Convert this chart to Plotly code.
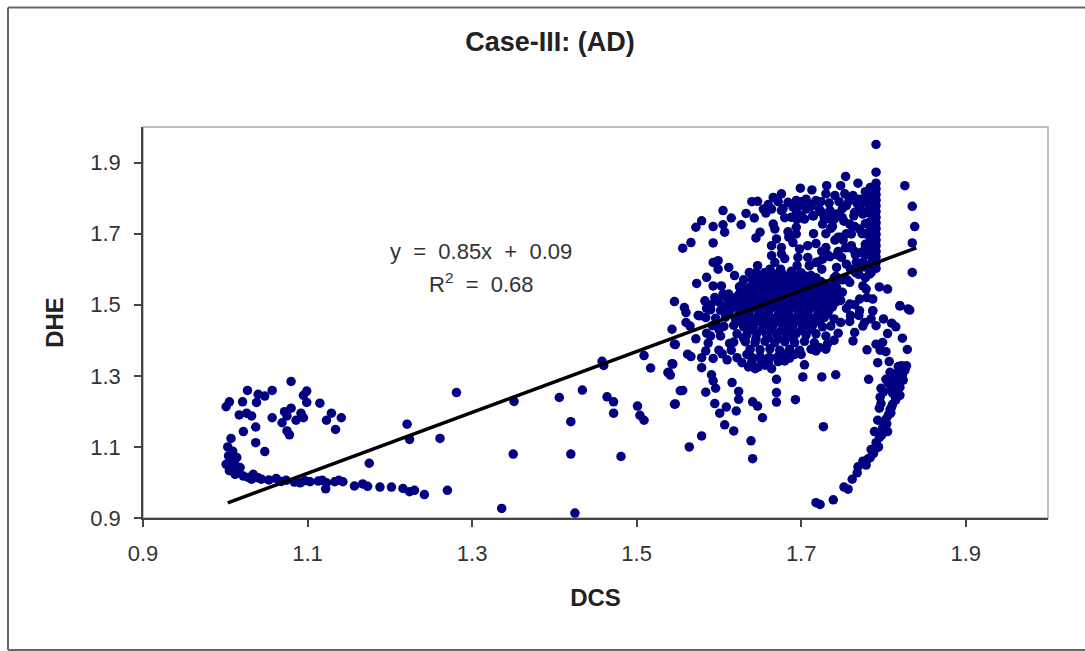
import plotly.graph_objects as go

# Loop of points at the lower left
left_x = [1.080,1.027,1.057,1.099,1.040,1.048,1.095,1.005,1.001,1.021,1.038,1.099,1.115,1.017,1.026,1.032,1.057,1.072,1.080,1.075,1.069,1.092,1.086,1.095,1.129,1.123,1.141,1.134,1.037,1.022,1.075,1.078,1.037,1.048,
          1.007,1.003,1.009,1.014,1.007,1.001,1.009,1.018,1.012,1.022,1.034,1.032,1.044,1.062,1.053,1.074,1.091,1.103,1.113,1.123,1.122,1.133,1.143,1.157,1.167,1.173,1.188,1.202,1.216,1.224,1.230,1.242,1.270,1.175,1.221,1.224,1.261,1.281,
          1.004,1.011,1.005,1.016,1.028,1.040,1.068,1.084,1.097,1.118,1.138]
left_y = [1.284,1.259,1.259,1.257,1.248,1.243,1.245,1.227,1.213,1.227,1.225,1.225,1.223,1.190,1.195,1.187,1.182,1.199,1.209,1.187,1.168,1.195,1.175,1.182,1.195,1.175,1.182,1.149,1.156,1.143,1.145,1.134,1.112,1.087,
          1.124,1.100,1.088,1.070,1.065,1.051,1.042,1.042,1.023,1.018,1.023,1.009,1.009,1.011,1.007,1.006,0.999,1.002,1.004,0.999,0.982,1.002,1.002,0.990,0.996,0.989,0.987,0.987,0.983,0.974,0.978,0.966,0.978,1.054,1.164,1.121,1.124,1.253,
          1.075,1.055,1.033,1.029,1.014,1.013,1.003,1.001,1.005,1.006,1.006]

# Scattered points between the clusters
mid_x = [1.351,1.406,1.434,1.420,1.350,1.420,1.481,1.336,1.425,1.458,1.460,1.464,1.472,1.472,1.501,1.504,1.509,1.509,1.517,1.544,1.539,1.541,1.547,1.547,1.553]
mid_y = [1.228,1.239,1.260,1.171,1.080,1.080,1.073,0.927,0.914,1.341,1.329,1.241,1.227,1.195,1.215,1.189,1.175,1.357,1.322,1.333,1.310,1.302,1.221,1.388,1.258]

# Points below the dense block
low_x = [1.543,1.546,1.562,1.566,1.543,1.538,1.579,1.579,1.584,1.593,1.591,1.593,1.596,1.556,1.584,1.546,1.616,1.624,1.624,1.595,1.609,1.601,1.621,1.641,1.647,1.653,1.607,1.618,1.579,1.564,1.639,1.641,1.670,1.670,1.670,1.693,1.702,1.725,1.742,1.704,1.680,1.782,1.727,1.730,1.718,1.698,
         1.602,1.613,1.604,1.622,1.618,1.610,1.590,1.572,1.587,1.600,1.615,1.628,1.636,1.644,1.652,1.660,1.634,1.686]
low_y = [1.431,1.389,1.361,1.354,1.334,1.309,1.323,1.351,1.370,1.349,1.303,1.286,1.265,1.259,1.254,1.220,1.281,1.256,1.234,1.222,1.212,1.195,1.201,1.227,1.215,1.182,1.162,1.145,1.131,1.100,1.117,1.067,1.290,1.253,1.226,1.233,1.297,1.297,1.303,1.331,1.342,1.290,1.157,1.375,1.370,1.370,
         1.412,1.391,1.362,1.351,1.395,1.345,1.412,1.404,1.392,1.372,1.372,1.337,1.325,1.320,1.345,1.336,1.360,1.350]

# Arc on the lower right
arc_x = [1.718,1.723,1.739,1.752,1.757,1.762,1.768,1.769,1.779,1.784,1.785,1.791,1.795,1.789,1.805,1.799,1.793,1.803,1.809,1.795,1.797,1.811,1.814,1.820,1.809,1.797,1.818,1.803,1.812,1.824,1.820,1.822,1.807,1.793,1.828,1.829,1.823,1.815,1.805,1.799,1.791,1.780,1.803,1.796,1.763,1.765,1.777,1.791,1.759,1.820,1.832,1.787,1.771,1.775,1.788,1.794,1.801,1.806,1.810,1.815,1.812,1.817,1.808,
         1.781,1.792,1.798,1.804,1.808,1.811,1.816,1.820,1.823,1.826,1.814,1.818,1.806,1.812,1.800,1.796]
arc_y = [0.943,0.938,0.951,0.987,0.981,1.009,1.027,1.044,1.049,1.070,1.093,1.112,1.126,1.143,1.143,1.154,1.175,1.178,1.196,1.209,1.222,1.220,1.243,1.245,1.262,1.265,1.272,1.290,1.290,1.288,1.309,1.328,1.340,1.337,1.328,1.374,1.406,1.438,1.419,1.394,1.389,1.373,1.368,1.372,1.398,1.422,1.450,1.441,1.453,1.497,1.485,1.483,1.483,1.060,1.082,1.100,1.162,1.190,1.212,1.232,1.262,1.296,1.310,
         1.066,1.098,1.134,1.165,1.205,1.252,1.280,1.268,1.300,1.315,1.305,1.326,1.280,1.272,1.255,1.240]

# Upper cloud
up_x = [1.791,1.791,1.754,1.769,1.826,1.699,1.713,1.731,1.748,1.835,1.838,1.835,1.835,
        1.647,1.666,1.676,1.684,1.694,1.706,1.718,1.730,1.741,1.753,1.763,1.771,1.779,1.654,1.664,1.676,1.694,1.706,1.722,1.735,1.755,1.771,
        1.605,1.615,1.633,1.643,1.627,1.579,1.572,1.593,1.605,1.607,1.566,1.556,1.593,1.650,1.645,1.666,1.668,1.664,1.670,1.676,1.676,1.664,1.668,
        1.694,1.694,1.704,1.690,1.698,1.708,1.696,1.708,1.726,1.735,1.743,1.726,1.718,1.730,1.741,1.751,1.761,1.771,1.759,1.761,1.749,1.755,1.743,1.773,1.767,1.775,
        1.593,1.599,1.599,1.612,1.619,1.637,1.647,1.662,1.585,1.573,1.593,1.603,1.629,1.645,1.546,1.558,1.560,1.583,1.577,1.605,1.595,1.615,1.625,1.612,
        1.759,1.775,1.783,1.779,1.805,1.820,1.830,1.787,1.771,1.787,1.743,1.739,1.759,1.810,
        1.700,1.712,1.724,1.688,1.657,1.640,1.750,1.765,1.782,1.684,1.744,1.736,1.750,1.718,1.680,1.710,
        1.660,1.672,1.700,1.712,1.734,1.746,1.758,1.768,1.678,1.690,1.714,1.728,1.752,1.764,1.776,1.738,1.762,1.774,1.748,1.732,1.754,1.766,1.778,1.742,1.766,1.756,1.770,1.778]
up_y = [1.951,1.873,1.861,1.842,1.835,1.828,1.823,1.835,1.835,1.777,1.720,1.674,1.591,
        1.791,1.802,1.812,1.788,1.793,1.797,1.793,1.812,1.807,1.812,1.807,1.797,1.802,1.769,1.769,1.765,1.765,1.769,1.769,1.765,1.779,1.774,
        1.765,1.744,1.757,1.744,1.725,1.736,1.718,1.720,1.725,1.704,1.675,1.659,1.674,1.704,1.688,1.727,1.713,1.666,1.685,1.661,1.643,1.638,1.619,
        1.718,1.699,1.741,1.675,1.657,1.666,1.633,1.633,1.727,1.741,1.755,1.628,1.619,1.661,1.682,1.682,1.699,1.713,1.727,1.666,1.633,1.614,1.605,1.647,1.619,1.755,
        1.619,1.624,1.600,1.605,1.582,1.591,1.610,1.600,1.577,1.560,1.553,1.553,1.549,1.567,1.509,1.492,1.478,1.511,1.469,1.530,1.520,1.511,1.520,1.490,
        1.563,1.553,1.586,1.544,1.544,1.497,1.488,1.516,1.516,1.483,1.549,1.506,1.502,1.448,
        1.790,1.782,1.790,1.746,1.758,1.790,1.745,1.760,1.780,1.705,1.640,1.715,1.770,1.672,1.630,1.610,
        1.782,1.790,1.780,1.776,1.786,1.790,1.792,1.785,1.770,1.775,1.750,1.745,1.735,1.750,1.790,1.720,1.720,1.700,1.690,1.640,1.660,1.640,1.660,1.580,1.590,1.570,1.600,1.576]

# Nearly vertical stack near x = 1.79
stack_x = [1.791,1.791,1.791,1.791,1.791,1.791,1.791,1.791,1.791,1.791,1.791,1.791,1.791,1.791,1.791,1.791,1.784,1.784,1.784,1.784,1.784,1.784,1.784,1.784,1.784,1.784,1.778,1.778,1.778,1.778,1.778,1.778,1.778,1.778]
stack_y = [1.842,1.826,1.810,1.794,1.778,1.762,1.746,1.730,1.714,1.698,1.682,1.666,1.650,1.634,1.618,1.602,1.830,1.806,1.782,1.758,1.734,1.710,1.686,1.662,1.638,1.614,1.818,1.790,1.760,1.728,1.700,1.670,1.640,1.606]

# Dense block around the middle of the trend line
core_x = [1.664,1.676,1.688,1.700,1.712,
          1.640,1.652,1.664,1.676,1.688,1.700,1.712,1.724,
          1.626,1.638,1.650,1.662,1.674,1.686,1.698,1.710,1.722,1.734,
          1.612,1.624,1.636,1.648,1.660,1.672,1.684,1.696,1.708,1.720,1.732,1.744,
          1.600,1.612,1.624,1.636,1.648,1.660,1.672,1.684,1.696,1.708,1.720,1.732,1.742,
          1.590,1.602,1.614,1.626,1.638,1.650,1.662,1.674,1.686,1.698,1.710,1.722,1.734,
          1.584,1.596,1.608,1.620,1.632,1.644,1.656,1.668,1.680,1.692,1.704,1.716,1.728,1.740,
          1.592,1.606,1.618,1.630,1.642,1.654,1.666,1.678,1.690,1.702,1.714,1.726,1.736,
          1.622,1.634,1.646,1.658,1.670,1.682,1.694,1.706,1.718,1.730,
          1.632,1.644,1.656,1.668,1.680,1.692,1.704,1.716,
          1.638,1.650,1.662,1.674,1.686,1.698,
          1.640,1.650,1.662,1.672,1.684]
core_y = [1.592,1.590,1.594,1.590,1.582,
          1.572,1.574,1.570,1.572,1.569,1.572,1.570,1.565,
          1.552,1.550,1.553,1.549,1.551,1.548,1.552,1.550,1.547,1.550,
          1.530,1.528,1.531,1.527,1.530,1.528,1.532,1.527,1.530,1.528,1.531,1.528,
          1.508,1.506,1.509,1.505,1.508,1.506,1.509,1.505,1.508,1.506,1.509,1.505,1.507,
          1.486,1.484,1.487,1.483,1.486,1.484,1.487,1.483,1.486,1.484,1.487,1.483,1.485,
          1.464,1.462,1.465,1.461,1.464,1.462,1.465,1.461,1.464,1.462,1.465,1.461,1.464,1.460,
          1.441,1.439,1.442,1.438,1.441,1.439,1.442,1.438,1.441,1.439,1.442,1.438,1.440,
          1.418,1.416,1.419,1.415,1.418,1.416,1.419,1.415,1.418,1.412,
          1.396,1.394,1.397,1.393,1.396,1.394,1.397,1.393,
          1.375,1.373,1.376,1.372,1.375,1.372,
          1.352,1.354,1.351,1.355,1.358]

# Second pass over the dense block, filling the spaces left by the first
fill_x = [1.658,1.670,1.682,1.694,1.706,1.718,
          1.644,1.656,1.668,1.680,1.692,1.704,1.716,1.728,1.740,
          1.630,1.642,1.654,1.666,1.678,1.690,1.702,1.714,1.726,1.738,1.750,
          1.618,1.630,1.642,1.654,1.666,1.678,1.690,1.702,1.714,1.726,1.738,1.748,
          1.606,1.618,1.630,1.642,1.654,1.666,1.678,1.690,1.702,1.714,1.726,1.738,
          1.612,1.624,1.636,1.648,1.660,1.672,1.684,1.696,1.708,1.720,1.732,
          1.626,1.638,1.650,1.662,1.674,1.686,1.698,1.710,1.722,
          1.640,1.652,1.664,1.676,1.688,1.700,1.712,
          1.630,1.645,1.660,1.672,1.690]
fill_y = [1.582,1.583,1.580,1.583,1.580,1.576,
          1.562,1.560,1.563,1.560,1.562,1.560,1.563,1.558,1.558,
          1.540,1.538,1.541,1.538,1.540,1.538,1.541,1.538,1.540,1.538,1.535,
          1.518,1.516,1.519,1.516,1.518,1.516,1.519,1.516,1.518,1.516,1.518,1.512,
          1.496,1.494,1.497,1.494,1.496,1.494,1.497,1.494,1.496,1.494,1.497,1.494,
          1.474,1.472,1.475,1.472,1.474,1.472,1.475,1.472,1.474,1.472,1.474,
          1.452,1.450,1.453,1.450,1.452,1.450,1.453,1.450,1.452,
          1.430,1.428,1.431,1.428,1.430,1.428,1.431,
          1.406,1.405,1.407,1.405,1.406,1.404]

# Further points around the edges of the dense block and in the upper cloud
edge_x = [1.632,1.640,1.648,1.656,1.664,1.672,1.650,1.660,1.636,1.680,1.692,1.700,1.712,1.722,1.732,1.740,1.745,1.748,
          1.575,1.585,1.590,1.575,1.560,1.565,1.585,1.600,1.598,1.610,1.625,1.630,1.645,1.655,1.675,1.695,1.710,1.725,
          1.700,1.715,1.730,1.745,1.755,1.765,1.740,1.725,1.715,1.695,1.680,1.700,1.725,1.745,1.760,1.765,1.685,1.720,1.735,1.775,1.760,1.770,1.750,1.740,1.785,1.795,1.780,1.765,1.755,1.770,1.785,1.800,1.760,1.775]
edge_y = [1.340,1.325,1.330,1.320,1.340,1.350,1.350,1.360,1.360,1.360,1.360,1.375,1.380,1.390,1.400,1.420,1.450,1.470,
          1.490,1.500,1.470,1.450,1.440,1.420,1.430,1.440,1.520,1.550,1.570,1.590,1.590,1.600,1.610,1.610,1.600,1.585,
          1.700,1.700,1.690,1.700,1.720,1.740,1.760,1.750,1.740,1.745,1.750,1.650,1.650,1.660,1.650,1.690,1.620,1.635,1.620,1.600,1.585,1.570,1.575,1.590,1.550,1.520,1.500,1.490,1.470,1.460,1.460,1.470,1.440,1.420]

# Trend line read from the equation and its ends in the picture
trend_x = [1.003, 1.84]
trend_y = [0.9426, 1.66]

tick_vals = [0.9, 1.1, 1.3, 1.5, 1.7, 1.9]
tick_text = ["0.9", "1.1", "1.3", "1.5", "1.7", "1.9"]

all_x = left_x + mid_x + low_x + arc_x + up_x + stack_x + core_x + fill_x + edge_x
all_y = left_y + mid_y + low_y + arc_y + up_y + stack_y + core_y + fill_y + edge_y

FONT = "Liberation Sans"
W, H = 1085, 651
L, R, T, B = 143, 1048, 127, 518

fig = go.Figure()
fig.add_trace(go.Scatter(x=all_x, y=all_y, mode="markers",
                         marker=dict(color="#000080", size=9.5, symbol="circle", line=dict(width=0)),
                         showlegend=False))
fig.add_trace(go.Scatter(x=trend_x, y=trend_y, mode="lines",
                         line=dict(color="black", width=3.5), showlegend=False))

axis = dict(range=[0.9, 2.0], tickmode="array", tickvals=tick_vals, ticktext=tick_text,
            ticks="outside", ticklen=7, tickwidth=1.5, tickcolor="#444444",
            showgrid=False, zeroline=False, showline=True, linecolor="#444444", linewidth=1.5,
            tickfont=dict(family=FONT, size=22, color="#333333"),
            mirror=False)
fig.update_xaxes(**axis, ticklabelstandoff=8,
                 title=dict(text="<b>DCS</b>", standoff=24, font=dict(family=FONT, size=24, color="#222222")))
fig.update_yaxes(**axis, ticklabelstandoff=9,
                 title=dict(text="<b>DHE</b>", standoff=20, font=dict(family=FONT, size=24, color="#222222")))

def px(x): return (x - L) / (R - L)
def py(y): return (B - y) / (B - T)

def note(text, cx, cy, size, color="#333333"):
    return dict(text=text, xref="paper", yref="paper", x=px(cx), y=py(cy),
                xanchor="center", yanchor="middle", showarrow=False,
                font=dict(family=FONT, size=size, color=color))

fig.update_layout(
    width=W, height=H, autosize=False,
    margin=dict(l=L, r=W - R, t=T, b=H - B, autoexpand=False),
    paper_bgcolor="white", plot_bgcolor="white",
    font=dict(family=FONT),
    title=dict(text="<b>Case-III: (AD)</b>", x=550 / W, xanchor="center",
               y=1 - 42 / H, yanchor="middle",
               font=dict(family=FONT, size=27, color="#222222")),
    annotations=[
        note("y\u00a0\u00a0=\u00a0\u00a00.85x\u00a0\u00a0+\u00a0\u00a00.09", 481, 251, 22),
        note("R<sup>2</sup>\u00a0\u00a0=\u00a0\u00a00.68", 481, 283, 22),
    ],
    shapes=[
        dict(type="rect", xref="paper", yref="paper", x0=0, x1=1, y0=0, y1=1, layer="below",
             line=dict(color="#aaaaaa", width=1.5)),
        dict(type="line", xref="paper", yref="paper", x0=px(8), x1=px(8), y0=py(650), y1=py(7.5),
             line=dict(color="#666666", width=2)),
        dict(type="line", xref="paper", yref="paper", x0=px(8), x1=px(W), y0=py(7.5), y1=py(7.5),
             line=dict(color="#666666", width=2)),
        dict(type="line", xref="paper", yref="paper", x0=px(8), x1=px(W), y0=py(650), y1=py(650),
             line=dict(color="#666666", width=2)),
    ],
)
fig.write_html("out.html", config=dict(displayModeBar=False),
               post_script="document.body.style.margin='0';document.body.style.overflow='hidden';")
